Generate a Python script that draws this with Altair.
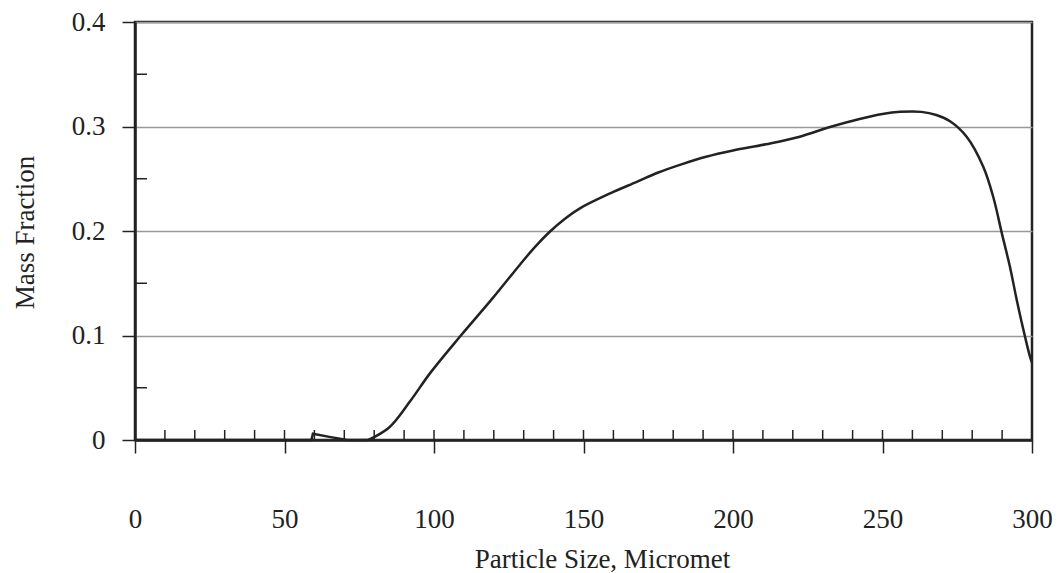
import altair as alt
import pandas as pd

# Particle size (micrometers) and mass fraction
size_um = [0, 40, 59, 59.5, 65, 71, 74, 78, 85, 92, 98.7, 108.7, 119.7, 128.8, 133.8,
           138.8, 143.8, 148.8, 158.9, 167.8, 175, 183, 191, 200, 211, 222, 233, 242,
           250, 256, 263, 268, 272.6, 278.2, 283.7, 287, 289.9, 292.6, 294.9, 297,
           299.3, 300]
mass_frac = [0, 0, 0, 0.006, 0.003, 0.0, 0.0, 0.0, 0.012, 0.037, 0.064, 0.099, 0.136,
             0.168, 0.1848, 0.1995, 0.2118, 0.2217, 0.236, 0.247, 0.256, 0.264, 0.271,
             0.277, 0.283, 0.29, 0.3, 0.307, 0.312, 0.314, 0.314, 0.311, 0.305, 0.290,
             0.2615, 0.233, 0.198, 0.166, 0.134, 0.107, 0.080, 0.074]

x_major = [0, 50, 100, 150, 200, 250, 300]
x_minor = [10, 20, 30, 40, 50, 60, 70, 80, 90, 100, 110, 120, 130, 140, 150, 160,
           170, 180, 190, 200, 210, 220, 230, 240, 250, 260, 270, 280, 290]
y_major = [0, 0.1, 0.2, 0.3, 0.4]
y_minor = [0.05, 0.15, 0.25, 0.35]

FONT = "Liberation Serif"
INK = "#222222"

df = pd.DataFrame({"size": size_um, "frac": mass_frac})
xminor_df = pd.DataFrame({"size": x_minor, "frac": [0] * len(x_minor)})
yminor_df = pd.DataFrame({"size": [0] * len(y_minor), "frac": y_minor})

xscale = alt.Scale(domain=[0, 300], nice=False, zero=False)
yscale = alt.Scale(domain=[0, 0.4], nice=False)

xaxis = alt.Axis(values=x_major, title="Particle Size, Micromet", grid=False,
                 tickSize=13, tickColor=INK, tickWidth=1.5,
                 domainColor=INK, domainWidth=2.5,
                 labelFont=FONT, labelFontSize=27, labelColor=INK,
                 labelPadding=53, labelFlush=False,
                 titleFont=FONT, titleFontSize=27, titleFontWeight="normal",
                 titleColor=INK, titleX=467, titleY=127,
                 titleBaseline="alphabetic", titleAlign="center")
yaxis = alt.Axis(values=y_major, title="Mass Fraction", grid=True,
                 gridColor="#999999", gridWidth=1.5,
                 tickSize=13, tickColor=INK, tickWidth=1.5,
                 domainColor=INK, domainWidth=2.5,
                 labelFont=FONT, labelFontSize=27, labelColor=INK,
                 labelPadding=17, labelFlush=False,
                 labelExpr="datum.value == 0 ? '0' : format(datum.value, '.1f')",
                 titleFont=FONT, titleFontSize=27, titleFontWeight="normal",
                 titleColor=INK, titleX=-102, titleY=210, titleAngle=-90,
                 titleBaseline="alphabetic", titleAlign="center")

line_low = alt.Chart(df).transform_filter("datum.size <= 78").mark_line(
    color=INK, strokeWidth=2.5, interpolate="linear").encode(
    x=alt.X("size:Q", scale=xscale, axis=xaxis),
    y=alt.Y("frac:Q", scale=yscale, axis=yaxis),
)

line_main = alt.Chart(df).transform_filter("datum.size >= 78").mark_line(
    color=INK, strokeWidth=2.5, interpolate="catmull-rom").encode(
    x=alt.X("size:Q", scale=xscale),
    y=alt.Y("frac:Q", scale=yscale),
)

xticks = alt.Chart(xminor_df).mark_tick(orient="vertical", size=10, thickness=1.5,
                                        color=INK, yOffset=-5, opacity=1).encode(
    x=alt.X("size:Q", scale=xscale),
    y=alt.Y("frac:Q", scale=yscale),
)

yticks = alt.Chart(yminor_df).mark_tick(orient="horizontal", size=12, thickness=1.5,
                                        color=INK, xOffset=6, opacity=1).encode(
    x=alt.X("size:Q", scale=xscale),
    y=alt.Y("frac:Q", scale=yscale),
)

chart = alt.layer(line_low, line_main, xticks, yticks).properties(
    width=897, height=418,
    autosize=alt.AutoSizeParams(type="none"),
    padding={"left": 135, "top": 22, "right": 29, "bottom": 133},
    background="white",
).configure_view(stroke=INK, strokeWidth=2.5)

chart.save("out.html", embed_options={"renderer": "svg", "actions": False})
